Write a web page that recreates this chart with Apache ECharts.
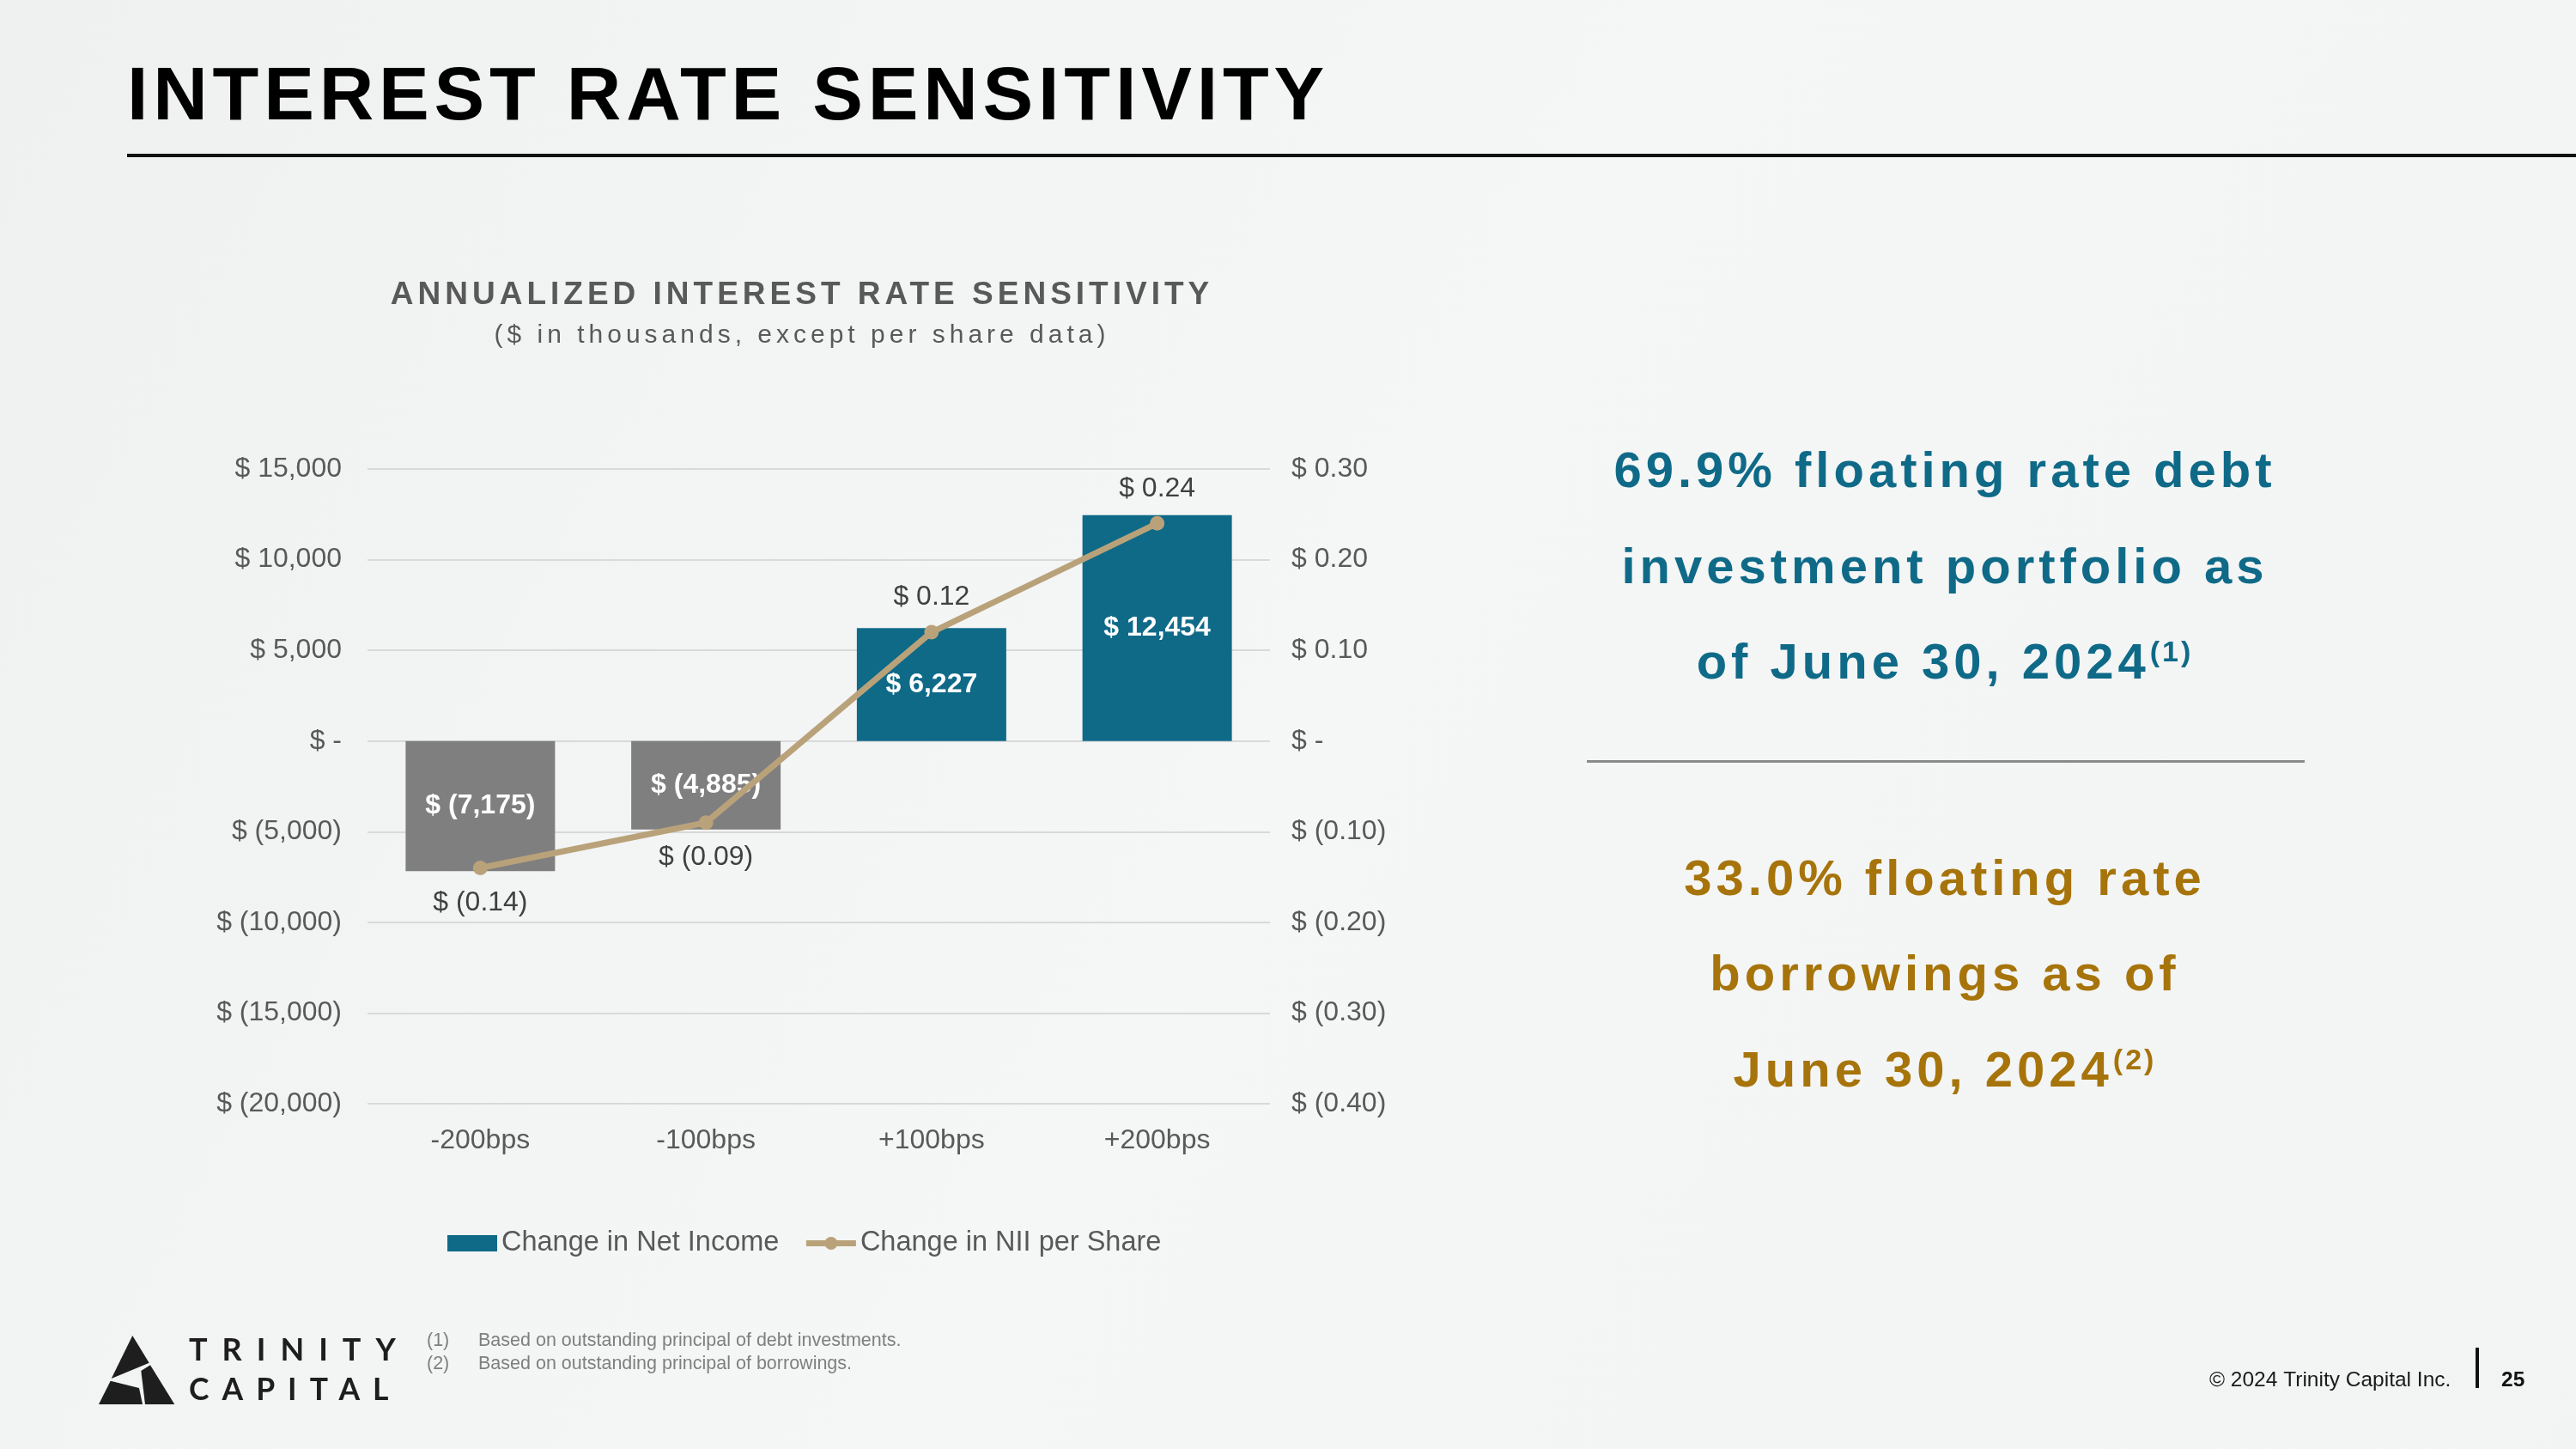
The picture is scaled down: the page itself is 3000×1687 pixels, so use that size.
<!DOCTYPE html>
<html><head><meta charset="utf-8">
<script src="https://cdn.jsdelivr.net/npm/echarts@6/dist/echarts.min.js"></script>
<style>html,body{margin:0;padding:0;background:#F3F4F4}#c{width:3000px;height:1687px}</style>
</head><body><div id="c"></div><script>
// ---------- data ----------
const categories = ['-200bps', '-100bps', '+100bps', '+200bps'];
const netIncomeChange = [-7175, -4885, 6227, 12454];        // $ thousands
const niiPerShareChange = [-0.14, -0.09, 0.12, 0.24];       // $ per share
const seriesNames = ['Change in Net Income', 'Change in NII per Share'];
const leftAxisRange = [-20000, 15000, 5000];
const rightAxisRange = [-0.4, 0.3, 0.1];
const slideTitle = 'INTEREST RATE SENSITIVITY';
const chartTitle = 'ANNUALIZED INTEREST RATE SENSITIVITY';
const chartSubtitle = '($ in thousands, except per share data)';
const tealLines = ['69.9% floating rate debt', 'investment portfolio as', 'of June 30, 2024{sup|(1)}'];
const goldLines = ['33.0% floating rate', 'borrowings as of', 'June 30, 2024{sup|(2)}'];
const footnoteNums = ['(1)', '(2)'];
const footnotes = ['Based on outstanding principal of debt investments.', 'Based on outstanding principal of borrowings.'];
const copyright = '\u00A9 2024 Trinity Capital Inc.';
const pageNum = '25';

// ---------- letter spacing for canvas text (by font size) ----------
const SPACING = {'88': 5.8, '37': 5, '30': 5, '58': 5, '34': 3, '36': 17, '35.5': 15};
(function () {
  const P = CanvasRenderingContext2D.prototype;
  function apply(ctx) {
    if (!('letterSpacing' in ctx)) return;
    const m = /([\d.]+)px/.exec(ctx.font || '');
    const s = m ? (SPACING[m[1]] || 0) : 0;
    const v = s + 'px';
    if (ctx.letterSpacing !== v) ctx.letterSpacing = v;
  }
  const f = P.fillText, st = P.strokeText, mt = P.measureText;
  P.fillText = function () { apply(this); return f.apply(this, arguments); };
  P.strokeText = function () { apply(this); return st.apply(this, arguments); };
  P.measureText = function () { apply(this); return mt.apply(this, arguments); };
})();

const FONT = '"Liberation Sans", Arial, sans-serif';
const TEAL = '#0F6A88', GRAY_BAR = '#7F7F7F', TAN = '#B9A27A', GOLD = '#A6740A', TXT = '#595959';

function fmtK(v) {
  const r = Math.round(v);
  if (r === 0) return '$ -';
  const s = Math.abs(r).toLocaleString('en-US');
  return r < 0 ? '$ (' + s + ')' : '$ ' + s;
}
function fmtS(v) {
  const r = Math.round(v * 100) / 100;
  if (Math.abs(r) < 1e-9) return '$ -';
  const s = Math.abs(r).toFixed(2);
  return r < 0 ? '$ (' + s + ')' : '$ ' + s;
}

const chart = echarts.init(document.getElementById('c'), null, {renderer: 'canvas', devicePixelRatio: 1});

const graphics = [
  {type: 'rect', shape: {x: 148, y: 179, width: 2852, height: 4}, style: {fill: '#111'}},
  {type: 'text', x: 148, y: 115, style: {text: slideTitle, fontSize: 88, fontWeight: 'bold', fontFamily: FONT, fill: '#000', verticalAlign: 'middle'}},
  {type: 'text', x: 934, y: 344, style: {text: chartTitle, fontSize: 37, fontWeight: 'bold', fontFamily: FONT, fill: TXT, align: 'center', verticalAlign: 'middle'}},
  {type: 'text', x: 934, y: 391, style: {text: chartSubtitle, fontSize: 30, fontFamily: FONT, fill: TXT, align: 'center', verticalAlign: 'middle'}},
  {type: 'rect', shape: {x: 1848, y: 885, width: 836, height: 3}, style: {fill: '#8A8A8A'}},
  // logo
  {type: 'polygon', shape: {points: [[154.3, 1555], [173.7, 1586.7], [129.7, 1605]]}, style: {fill: '#1E1E1E'}},
  {type: 'polygon', shape: {points: [[175, 1589.3], [203.3, 1635], [169, 1635], [164.3, 1596]]}, style: {fill: '#1E1E1E'}},
  {type: 'polygon', shape: {points: [[128.7, 1607.7], [162, 1616], [166, 1635], [115, 1635]]}, style: {fill: '#1E1E1E'}},
  {type: 'text', x: 220, y: 1572, style: {text: 'TRINITY', fontSize: 36, fontWeight: 'bold', fontFamily: 'Lato, sans-serif', fill: '#1E1E1E', verticalAlign: 'middle'}},
  {type: 'text', x: 220, y: 1619, style: {text: 'CAPITAL', fontSize: 35.5, fontWeight: 'bold', fontFamily: 'Lato, sans-serif', fill: '#1E1E1E', verticalAlign: 'middle'}},
  // copyright
  {type: 'text', x: 2573, y: 1607, style: {text: copyright, fontSize: 24.5, fontFamily: FONT, fill: '#1A1A1A', verticalAlign: 'middle'}},
  {type: 'rect', shape: {x: 2883, y: 1569, width: 4, height: 47}, style: {fill: '#111'}},
  {type: 'text', x: 2913, y: 1607, style: {text: pageNum, fontSize: 24.5, fontWeight: 'bold', fontFamily: FONT, fill: '#111', verticalAlign: 'middle'}}
];
const tealY = [551, 662.5, 774], goldY = [1026, 1137, 1248.5];
function addLines(lines, ys, color) {
  lines.forEach(function (t, i) {
    graphics.push({type: 'text', x: 2265, y: ys[i], style: {
      text: t, fontSize: 58, fontWeight: 'bold', fontFamily: FONT, fill: color, align: 'center', verticalAlign: 'middle',
      rich: {sup: {fontSize: 34, fontWeight: 'bold', fontFamily: FONT, fill: color, verticalAlign: 'top', lineHeight: 34}}
    }});
  });
}
addLines(tealLines, tealY, TEAL);
addLines(goldLines, goldY, GOLD);
footnotes.forEach(function (t, i) {
  graphics.push({type: 'text', x: 497, y: 1561 + i * 27, style: {text: footnoteNums[i], fontSize: 21.5, fontFamily: FONT, fill: '#7F7F7F', verticalAlign: 'middle'}});
  graphics.push({type: 'text', x: 557, y: 1561 + i * 27, style: {text: t, fontSize: 21.5, fontFamily: FONT, fill: '#7F7F7F', verticalAlign: 'middle'}});
});

const option = {
  backgroundColor: {type: 'linear', x: 0, y: 0, x2: 1, y2: 1, colorStops: [{offset: 0, color: '#EFF0F0'}, {offset: 0.5, color: '#F5F6F6'}, {offset: 1, color: '#F2F3F3'}]},
  animation: false,
  textStyle: {fontFamily: FONT},
  grid: {left: 428, right: 1521, top: 546, bottom: 402, containLabel: false},
  legend: {
    left: 516, top: 1426, itemWidth: 58, itemHeight: 19, itemGap: 28,
    textStyle: {fontSize: 32.5, color: TXT, fontFamily: FONT},
    lineStyle: {width: 7},
    data: [{name: seriesNames[0], icon: 'rect'}, {name: seriesNames[1]}]
  },
  xAxis: {
    type: 'category', data: categories,
    axisLine: {show: false}, axisTick: {show: false},
    axisLabel: {fontSize: 32, color: TXT, margin: 27, fontFamily: FONT}
  },
  yAxis: [
    {type: 'value', min: leftAxisRange[0], max: leftAxisRange[1], interval: leftAxisRange[2],
      axisLine: {show: false}, axisTick: {show: false},
      splitLine: {lineStyle: {color: '#D9D9D9', width: 2}},
      axisLabel: {fontSize: 32, color: TXT, margin: 30, fontFamily: FONT, formatter: fmtK}},
    {type: 'value', min: rightAxisRange[0], max: rightAxisRange[1], interval: rightAxisRange[2],
      axisLine: {show: false}, axisTick: {show: false}, splitLine: {show: false},
      axisLabel: {fontSize: 32, color: TXT, margin: 25, fontFamily: FONT, formatter: fmtS}}
  ],
  series: [
    {name: seriesNames[0], type: 'bar', barWidth: 174, itemStyle: {color: TEAL},
      data: netIncomeChange.map(function (v) { return {value: v, itemStyle: {color: v < 0 ? GRAY_BAR : TEAL}}; }),
      label: {show: true, position: 'inside', color: '#fff', fontSize: 32, fontWeight: 'bold', fontFamily: FONT,
        formatter: function (p) { return fmtK(p.value); }}},
    {name: seriesNames[1], type: 'line', yAxisIndex: 1, color: TAN,
      lineStyle: {width: 7, color: TAN}, itemStyle: {color: TAN},
      symbol: 'circle', symbolSize: 17,
      data: niiPerShareChange.map(function (v) { return {value: v, label: {position: v < 0 ? 'bottom' : 'top'}}; }),
      label: {show: true, distance: 16, color: '#404040', fontSize: 32, fontFamily: FONT,
        formatter: function (p) { return fmtS(p.value); }}}
  ],
  graphic: graphics
};
chart.setOption(option);
</script></body></html>
